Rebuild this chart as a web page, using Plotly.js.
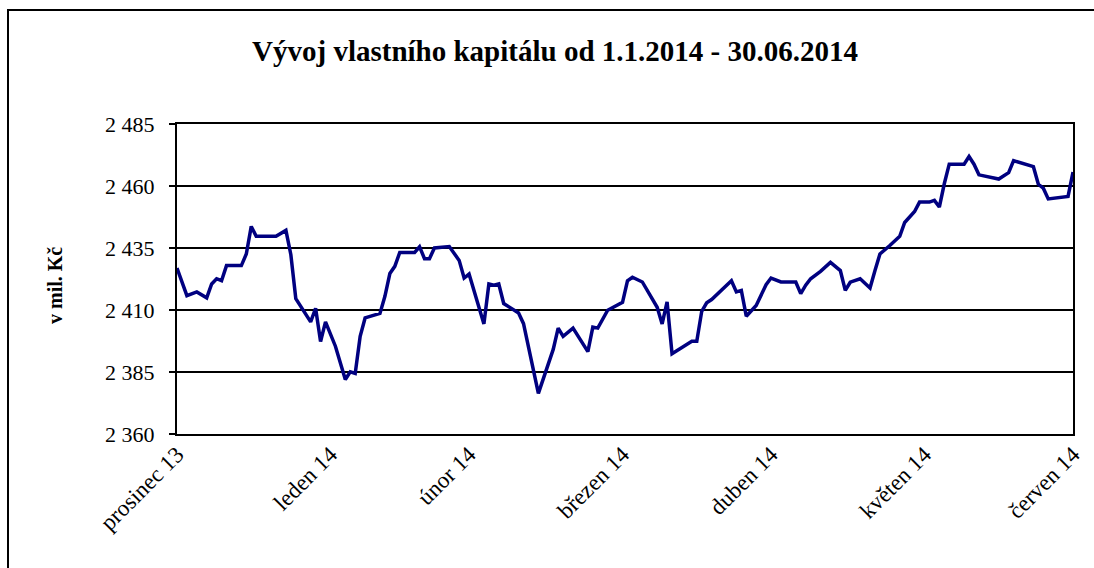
<!DOCTYPE html>
<html>
<head>
<meta charset="utf-8">
<script src="https://cdn.plot.ly/plotly-3.0.1.min.js"></script>
<style>
html,body{margin:0;padding:0;background:#fff;}
#chart{width:1094px;height:568px;}
</style>
</head>
<body>
<div id="chart"></div>
<script>
const dates = [
  "2013-12-31","2014-01-02","2014-01-04","2014-01-06","2014-01-07","2014-01-08","2014-01-09","2014-01-10",
  "2014-01-13","2014-01-14","2014-01-15","2014-01-16","2014-01-20","2014-01-22","2014-01-23","2014-01-24",
  "2014-01-27","2014-01-28","2014-01-29","2014-01-30","2014-02-01","2014-02-03","2014-02-04","2014-02-05",
  "2014-02-06","2014-02-07","2014-02-10","2014-02-11","2014-02-12","2014-02-13","2014-02-14","2014-02-17",
  "2014-02-18","2014-02-19","2014-02-20","2014-02-21","2014-02-24","2014-02-26","2014-02-27","2014-02-28",
  "2014-03-03","2014-03-04","2014-03-05","2014-03-06","2014-03-07","2014-03-10","2014-03-11","2014-03-14",
  "2014-03-17","2014-03-18","2014-03-19","2014-03-21","2014-03-24","2014-03-25","2014-03-26","2014-03-28",
  "2014-03-31","2014-04-01","2014-04-02","2014-04-04","2014-04-07","2014-04-08","2014-04-09","2014-04-10",
  "2014-04-14","2014-04-15","2014-04-16","2014-04-17","2014-04-18","2014-04-22","2014-04-23","2014-04-24",
  "2014-04-25","2014-04-27","2014-04-29","2014-04-30","2014-05-02","2014-05-05","2014-05-06","2014-05-07",
  "2014-05-08","2014-05-10","2014-05-12","2014-05-14","2014-05-15","2014-05-16","2014-05-18","2014-05-20",
  "2014-05-21","2014-05-22","2014-05-24","2014-05-26","2014-05-27","2014-05-28","2014-05-29","2014-05-30",
  "2014-06-01","2014-06-02","2014-06-03","2014-06-04","2014-06-05","2014-06-08","2014-06-09","2014-06-10",
  "2014-06-11","2014-06-15","2014-06-17","2014-06-18","2014-06-22","2014-06-23","2014-06-24","2014-06-25",
  "2014-06-29","2014-06-30"
];
const equity = [
  2426.9,2415.8,2417.3,2414.9,2420.5,2422.6,2421.8,2427.9,
  2427.9,2432.6,2443.7,2439.7,2439.7,2442.1,2432.3,2414.6,
  2405.2,2410.7,2397.3,2405.2,2395.4,2382.0,2385.1,2384.4,
  2399.4,2406.8,2408.6,2415.5,2424.7,2427.6,2433.2,2433.2,
  2435.5,2430.7,2430.7,2435.0,2435.6,2430.0,2422.9,2424.5,
  2404.4,2420.5,2420.0,2420.5,2412.6,2408.8,2404.5,2376.4,
  2394.1,2402.7,2399.4,2402.7,2393.2,2403.1,2402.7,2409.9,
  2413.1,2421.8,2423.2,2421.3,2411.1,2404.4,2413.3,2392.4,
  2397.4,2397.4,2409.5,2412.9,2414.2,2421.8,2417.3,2417.9,
  2407.5,2411.8,2420.2,2422.9,2421.3,2421.3,2416.6,2420.0,
  2422.6,2425.6,2429.2,2425.9,2417.9,2421.2,2422.6,2418.9,
  2425.9,2432.6,2436.0,2439.7,2445.3,2447.7,2449.7,2453.5,
  2453.5,2454.2,2451.5,2460.9,2468.8,2468.8,2471.9,2468.8,
  2464.5,2462.8,2465.4,2470.2,2467.8,2460.7,2459.1,2454.8,
  2455.8,2465.6
];
const tickDates = ["2013-12-31","2014-01-31","2014-02-28","2014-03-31","2014-04-30","2014-05-31","2014-06-30"];
const tickLabels = ["prosinec 13","leden 14","únor 14","březen 14","duben 14","květen 14","červen 14"];
const yTicks = [2360, 2385, 2410, 2435, 2460, 2485];
const yTickLabels = ["2 360","2 385","2 410","2 435","2 460","2 485"];

const serif = "'Liberation Serif', 'Times New Roman', 'DejaVu Serif', serif";

const trace = {
  x: dates, y: equity, type: "scatter", mode: "lines",
  line: {color: "#000080", width: 3.5}, hoverinfo: "x+y"
};

const layout = {
  width: 1094, height: 568,
  margin: {l: 177, r: 21, t: 124, b: 134},
  paper_bgcolor: "#ffffff", plot_bgcolor: "#ffffff",
  showlegend: false,
  font: {family: serif, color: "#000"},
  title: {
    text: "<b>Vývoj vlastního kapitálu od 1.1.2014 - 30.06.2014</b>",
    font: {family: serif, size: 29, color: "#000"},
    x: 555/1094, xref: "container", xanchor: "center",
    y: 1 - 51/568, yref: "container", yanchor: "middle"
  },
  xaxis: {
    type: "date",
    range: ["2013-12-31", "2014-06-30"],
    tickvals: tickDates, ticktext: tickLabels,
    tickangle: -45,
    tickfont: {family: serif, size: 23, color: "#000"},
    showgrid: false, zeroline: false,
    showline: true, linecolor: "#000", linewidth: 2, mirror: true,
    ticks: "", ticklen: 0, ticklabelstandoff: -4
  },
  yaxis: {
    range: [2360, 2485],
    tickvals: yTicks, ticktext: yTickLabels,
    tickfont: {family: serif, size: 22, color: "#000"},
    showgrid: true, gridcolor: "#000", gridwidth: 1.5,
    zeroline: false,
    showline: true, linecolor: "#000", linewidth: 2, mirror: true,
    ticks: "outside", ticklen: 6, tickwidth: 1.5, tickcolor: "#000",
    ticklabelstandoff: 10
  },
  annotations: [{
    text: "<b>v mil. Kč</b>",
    xref: "paper", yref: "paper",
    x: (55 - 177) / 896, y: (434 - 286) / 310,
    xanchor: "center", yanchor: "middle",
    textangle: -90, showarrow: false,
    font: {family: serif, size: 20, color: "#000"}
  }],
  shapes: [{
    type: "rect", xref: "paper", yref: "paper",
    x0: (8 - 177) / 896, x1: (1110 - 177) / 896,
    y0: (434 - 600) / 310, y1: (434 - 10) / 310,
    line: {color: "#000", width: 2}, fillcolor: "rgba(0,0,0,0)", layer: "below"
  }]
};

Plotly.newPlot("chart", [trace], layout, {displayModeBar: false, staticPlot: true});
</script>
</body>
</html>
